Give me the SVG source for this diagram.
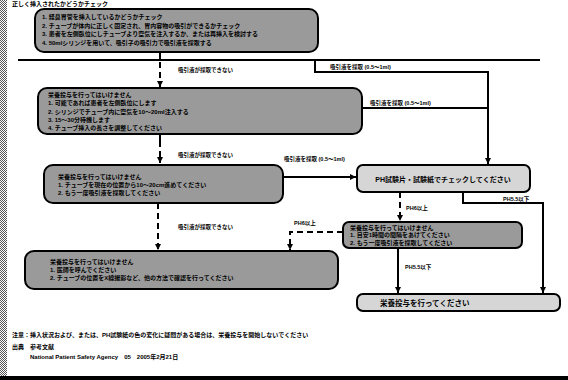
<svg xmlns="http://www.w3.org/2000/svg" width="568" height="380" viewBox="0 0 568 380">
<style>
.box{stroke:#000;stroke-width:2}
.dk{fill:#9a9a9a}
.lt{fill:#d6d6d6}
.t{font-family:'Liberation Sans','Noto Sans CJK JP',sans-serif;font-weight:bold;fill:#000}
.s{font-size:6px}
.lbl{font-size:5.5px}
.ln{stroke:#000;stroke-width:2;fill:none}
.ds{stroke-dasharray:6 4}
</style>
<defs>
<marker id="ah" viewBox="0 0 6 6" markerWidth="6" markerHeight="6" refX="6" refY="3" orient="auto" markerUnits="userSpaceOnUse"><path d="M0,0 L6,3 L0,6 z" fill="#000"/></marker>
<pattern id="dots" width="2" height="2" patternUnits="userSpaceOnUse"><rect width="2" height="2" fill="#fff"/><rect width="1" height="1" fill="#555"/><rect x="1" y="1" width="1" height="1" fill="#555"/></pattern>
</defs>
<rect width="568" height="380" fill="#fff"/>
<rect x="0" y="0" width="7" height="380" fill="url(#dots)"/>
<rect x="0" y="376" width="568" height="4" fill="#000"/>
<text class="t" x="12" y="6" font-size="6">正しく挿入されたかどうかチェック</text>

<g id="connectors">
<path class="ln" d="M160,52 V60"/>
<path class="ln" d="M18,60 H540"/>
<path class="ln ds" d="M160,62 V87" marker-end="url(#ah)"/>
<path class="ln" d="M315,60 V72 H488 V164" marker-end="url(#ah)"/>
<path class="ln" d="M362,108 H488"/>
<path class="ln" d="M160,134 V163" stroke-dasharray="13 4" marker-end="url(#ah)"/>
<path class="ln ds" d="M158,203 V250" marker-end="url(#ah)"/>
<path class="ln" d="M283,177 H356" marker-end="url(#ah)"/>
<path class="ln ds" d="M400,192 V221" marker-end="url(#ah)"/>
<path class="ln" d="M463,192 V203 H543 V293" marker-end="url(#ah)"/>
<path class="ln ds" d="M343,232 H290 V250" marker-end="url(#ah)"/>
<path class="ln" d="M398,248 V293" marker-end="url(#ah)"/>
<text class="t lbl" x="178" y="72">吸引液が採取できない</text>
<text class="t lbl" x="330" y="69">吸引液を採取 (0.5～1ml)</text>
<text class="t lbl" x="370" y="105">吸引液を採取 (0.5～1ml)</text>
<text class="t lbl" x="178" y="157">吸引液が採取できない</text>
<text class="t lbl" x="284" y="161">吸引液を採取 (0.5～1ml)</text>
<text class="t lbl" x="178" y="229">吸引液が採取できない</text>
<text class="t lbl" x="406" y="210">PH6以上</text>
<text class="t lbl" x="503" y="201">PH5.5以下</text>
<text class="t lbl" x="294" y="225">PH6以上</text>
<text class="t lbl" x="405" y="269">PH5.5以下</text>
</g>

<g id="n1">
<rect class="box dk" x="35" y="9" width="283" height="43" rx="9"/>
<text class="t s" x="42" y="19">1. 経鼻胃管を挿入しているかどうかチェック</text>
<text class="t s" x="42" y="27.5">2. チューブが体内に正しく固定され、胃内容物の吸引ができるかチェック</text>
<text class="t s" x="42" y="36">3. 患者を左側臥位にしチューブより空気を注入するか、または再挿入を検討する</text>
<text class="t s" x="42" y="44.5">4. 50mlシリンジを用いて、吸引子の吸引力で吸引液を採取する</text>
</g>

<g id="n2">
<rect class="box dk" x="38" y="88" width="324" height="46" rx="9"/>
<text class="t s" x="48" y="97">栄養投与を行ってはいけません</text>
<text class="t s" x="48" y="105">1. 可能であれば患者を左側臥位にします</text>
<text class="t s" x="48" y="113.5">2. シリンジでチューブ内に空気を10～20ml注入する</text>
<text class="t s" x="48" y="121.5">3. 15～30分待機します</text>
<text class="t s" x="48" y="130">4. チューブ挿入の長さを調整してください</text>
</g>

<g id="n3">
<rect class="box dk" x="44" y="165" width="239" height="38" rx="9"/>
<text class="t s" x="58" y="179">栄養投与を行ってはいけません</text>
<text class="t s" x="58" y="187">1. チューブを現在の位置から10～20cm進めてください</text>
<text class="t s" x="58" y="195">2. もう一度吸引液を採取してください</text>
</g>

<g id="n4">
<rect class="box lt" x="357" y="165" width="173" height="27" rx="6"/>
<text class="t" x="443" y="182" font-size="7" text-anchor="middle">PH試験片・試験紙でチェックしてください</text>
</g>

<g id="n5">
<rect class="box dk" x="343" y="222" width="179" height="26" rx="6"/>
<text class="t s" x="350" y="229.5">栄養投与を行ってはいけません</text>
<text class="t s" x="350" y="237">1. 目安1時間の間隔をあけてください</text>
<text class="t s" x="350" y="244.5">2. もう一度吸引液を採取してください</text>
</g>

<g id="n6">
<rect class="box dk" x="25" y="251" width="313" height="38" rx="9"/>
<text class="t s" x="50" y="264">栄養投与を行ってはいけません</text>
<text class="t s" x="50" y="272">1. 医師を呼んでください</text>
<text class="t s" x="50" y="280">2. チューブの位置をX線撮影など、他の方法で確認を行ってください</text>
</g>

<g id="n7">
<rect class="box lt" x="357" y="294" width="203" height="17" rx="6"/>
<text class="t" x="380" y="305.5" font-size="7.5">栄養投与を行ってください</text>
</g>

<text class="t s" x="12" y="337">注意：挿入状況および、または、PH試験紙の色の変化に疑問がある場合は、栄養投与を開始しないでください</text>
<text class="t s" x="12" y="349">出典　参考文献</text>
<text class="t s" x="30" y="359">National Patient Safety Agency　05　2005年2月21日</text>
</svg>
